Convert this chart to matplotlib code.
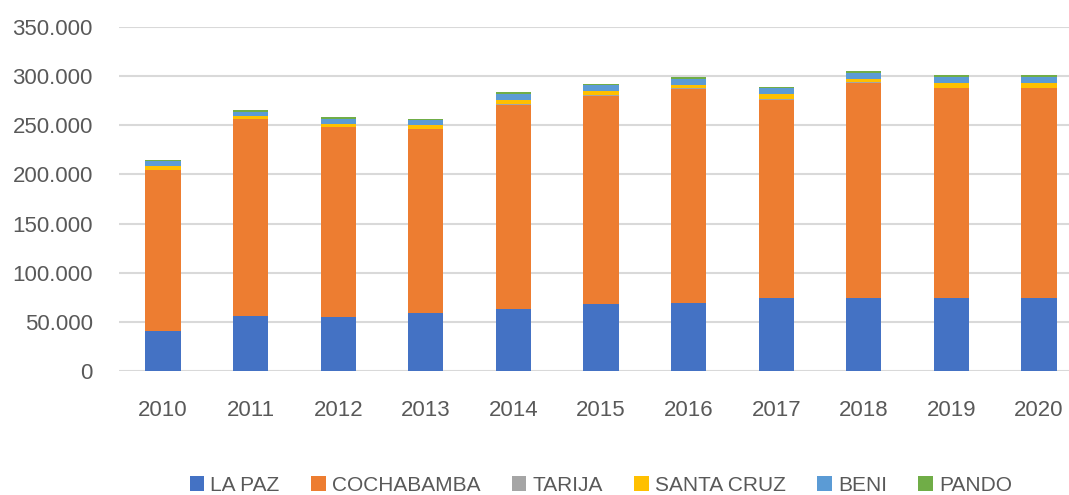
import matplotlib.pyplot as plt
import numpy as np
from matplotlib.ticker import FuncFormatter

# --- Data ------------------------------------------------------------------
years = ["2010", "2011", "2012", "2013", "2014", "2015",
         "2016", "2017", "2018", "2019", "2020"]

la_paz = [40600, 56000, 55000, 58600, 63000, 67800, 69400, 74500, 74500, 74500, 74500]
cochabamba = [163400, 200000, 193000, 187400, 208000, 212200, 217600, 201500, 218500, 213000, 213000]
tarija = [800, 700, 700, 700, 800, 800, 800, 1000, 800, 800, 800]
santa_cruz = [4200, 2800, 2800, 3300, 4200, 3700, 3200, 4700, 3600, 4700, 4700]
beni = [4600, 4500, 5000, 5000, 6000, 6100, 6400, 5800, 6100, 6000, 6000]
pando = [1500, 1500, 1800, 1800, 1500, 1400, 1900, 1600, 1600, 1700, 1700]

series = [
    ("LA PAZ", la_paz, "#4472C4"),
    ("COCHABAMBA", cochabamba, "#ED7D31"),
    ("TARIJA", tarija, "#A5A5A5"),
    ("SANTA CRUZ", santa_cruz, "#FFC000"),
    ("BENI", beni, "#5B9BD5"),
    ("PANDO", pando, "#70AD47"),
]

# --- Plot ------------------------------------------------------------------
plt.rcParams["font.family"] = ["Liberation Sans", "DejaVu Sans"]
text_color = "#595959"

fig = plt.figure(figsize=(10.69, 4.95), dpi=100)
ax = fig.add_axes([119.2 / 1069, 124 / 495, 963.6 / 1069, 344 / 495])

x = np.arange(len(years))
bottom = np.zeros(len(years))
for name, vals, color in series:
    ax.bar(x, vals, width=0.4, bottom=bottom, color=color, label=name, zorder=3)
    bottom += np.array(vals)

ax.set_xlim(-0.5, 10.5)
ax.set_ylim(0, 350000)
ax.set_yticks(np.arange(0, 350001, 50000))
ax.yaxis.set_major_formatter(FuncFormatter(lambda v, p: f"{int(v):,}".replace(",", ".")))
ax.set_xticks(x)
ax.set_xticklabels(years)

ax.grid(axis="y", color="#d9d9d9", linewidth=1.5, zorder=0)
for s in ax.spines.values():
    s.set_visible(False)
ax.tick_params(axis="both", length=0, labelsize=16, colors=text_color)
ax.tick_params(axis="y", pad=19)
ax.tick_params(axis="x", pad=21)

fig.legend(loc="lower center", bbox_to_anchor=(0.562, -0.038), ncol=6,
           frameon=False, fontsize=15, handlelength=0.7, handleheight=0.7,
           handletextpad=0.3, columnspacing=1.5, labelcolor=text_color)

fig.savefig("out.png", dpi=100)
